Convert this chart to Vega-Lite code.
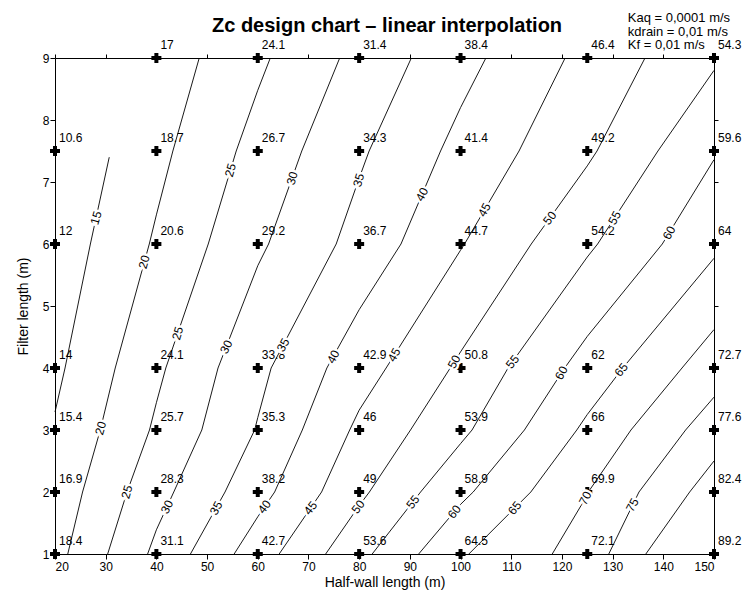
{
  "$schema": "https://vega.github.io/schema/vega-lite/v6.json",
  "width": 659,
  "height": 496,
  "autosize": {"type": "none"},
  "padding": {"left": 55, "top": 58, "right": 29, "bottom": 38},
  "background": "white",
  "config": {
    "view": {"stroke": null},
    "font": "Liberation Sans",
    "axis": {"domainColor": "black", "tickColor": "black", "labelColor": "black", "titleColor": "black", "grid": false, "labelFont": "Liberation Sans", "titleFont": "Liberation Sans", "labelFontSize": 12, "titleFontSize": 14, "titleFontWeight": "normal", "tickSize": 5, "domainWidth": 1, "tickWidth": 1}
  },
  "datasets": {
    "pts": [
      {"x": 40, "y": 9, "v": "17"}, {"x": 60, "y": 9, "v": "24.1"}, {"x": 80, "y": 9, "v": "31.4"}, {"x": 100, "y": 9, "v": "38.4"}, {"x": 125, "y": 9, "v": "46.4"}, {"x": 150, "y": 9, "v": "54.3"},
      {"x": 20, "y": 7.5, "v": "10.6"}, {"x": 40, "y": 7.5, "v": "18.7"}, {"x": 60, "y": 7.5, "v": "26.7"}, {"x": 80, "y": 7.5, "v": "34.3"}, {"x": 100, "y": 7.5, "v": "41.4"}, {"x": 125, "y": 7.5, "v": "49.2"}, {"x": 150, "y": 7.5, "v": "59.6"},
      {"x": 20, "y": 6, "v": "12"}, {"x": 40, "y": 6, "v": "20.6"}, {"x": 60, "y": 6, "v": "29.2"}, {"x": 80, "y": 6, "v": "36.7"}, {"x": 100, "y": 6, "v": "44.7"}, {"x": 125, "y": 6, "v": "54.2"}, {"x": 150, "y": 6, "v": "64"},
      {"x": 20, "y": 4, "v": "14"}, {"x": 40, "y": 4, "v": "24.1"}, {"x": 60, "y": 4, "v": "33.8"}, {"x": 80, "y": 4, "v": "42.9"}, {"x": 100, "y": 4, "v": "50.8"}, {"x": 125, "y": 4, "v": "62"}, {"x": 150, "y": 4, "v": "72.7"},
      {"x": 20, "y": 3, "v": "15.4"}, {"x": 40, "y": 3, "v": "25.7"}, {"x": 60, "y": 3, "v": "35.3"}, {"x": 80, "y": 3, "v": "46"}, {"x": 100, "y": 3, "v": "53.9"}, {"x": 125, "y": 3, "v": "66"}, {"x": 150, "y": 3, "v": "77.6"},
      {"x": 20, "y": 2, "v": "16.9"}, {"x": 40, "y": 2, "v": "28.3"}, {"x": 60, "y": 2, "v": "38.2"}, {"x": 80, "y": 2, "v": "49"}, {"x": 100, "y": 2, "v": "58.9"}, {"x": 125, "y": 2, "v": "69.9"}, {"x": 150, "y": 2, "v": "82.4"},
      {"x": 20, "y": 1, "v": "18.4"}, {"x": 40, "y": 1, "v": "31.1"}, {"x": 60, "y": 1, "v": "42.7"}, {"x": 80, "y": 1, "v": "53.6"}, {"x": 100, "y": 1, "v": "64.5"}, {"x": 125, "y": 1, "v": "72.1"}, {"x": 150, "y": 1, "v": "89.2"}
    ],
    "contours": [
      {"level": 15, "o": 1, "x": 20, "y": 3.29}, {"level": 15, "o": 2, "x": 21.98, "y": 4}, {"level": 15, "o": 3, "x": 26.98, "y": 6}, {"level": 15, "o": 4, "x": 30.7, "y": 7.4},
      {"level": 20, "o": 1, "x": 22.52, "y": 1}, {"level": 20, "o": 2, "x": 25.44, "y": 2}, {"level": 20, "o": 3, "x": 28.93, "y": 3}, {"level": 20, "o": 4, "x": 31.88, "y": 4}, {"level": 20, "o": 5, "x": 38.6, "y": 6}, {"level": 20, "o": 6, "x": 40, "y": 6.47}, {"level": 20, "o": 7, "x": 43.25, "y": 7.5}, {"level": 20, "o": 8, "x": 48.45, "y": 9},
      {"level": 25, "o": 1, "x": 30.39, "y": 1}, {"level": 25, "o": 2, "x": 34.21, "y": 2}, {"level": 25, "o": 3, "x": 38.64, "y": 3}, {"level": 25, "o": 4, "x": 40, "y": 3.44}, {"level": 25, "o": 5, "x": 41.86, "y": 4}, {"level": 25, "o": 6, "x": 50.23, "y": 6}, {"level": 25, "o": 7, "x": 55.75, "y": 7.5}, {"level": 25, "o": 8, "x": 60, "y": 8.48}, {"level": 25, "o": 9, "x": 62.47, "y": 9},
      {"level": 30, "o": 1, "x": 38.27, "y": 1}, {"level": 30, "o": 2, "x": 40, "y": 1.39}, {"level": 30, "o": 3, "x": 43.43, "y": 2}, {"level": 30, "o": 4, "x": 48.96, "y": 3}, {"level": 30, "o": 5, "x": 52.16, "y": 4}, {"level": 30, "o": 6, "x": 60, "y": 5.65}, {"level": 30, "o": 7, "x": 62.13, "y": 6}, {"level": 30, "o": 8, "x": 68.68, "y": 7.5}, {"level": 30, "o": 9, "x": 76.16, "y": 9},
      {"level": 35, "o": 1, "x": 46.72, "y": 1}, {"level": 35, "o": 2, "x": 53.54, "y": 2}, {"level": 35, "o": 3, "x": 59.38, "y": 3}, {"level": 35, "o": 4, "x": 60, "y": 3.2}, {"level": 35, "o": 5, "x": 62.64, "y": 4}, {"level": 35, "o": 6, "x": 75.47, "y": 6}, {"level": 35, "o": 7, "x": 80, "y": 7.06}, {"level": 35, "o": 8, "x": 81.97, "y": 7.5}, {"level": 35, "o": 9, "x": 90.29, "y": 9},
      {"level": 40, "o": 1, "x": 55.34, "y": 1}, {"level": 40, "o": 2, "x": 60, "y": 1.6}, {"level": 40, "o": 3, "x": 63.33, "y": 2}, {"level": 40, "o": 4, "x": 68.79, "y": 3}, {"level": 40, "o": 5, "x": 73.63, "y": 4}, {"level": 40, "o": 6, "x": 80, "y": 4.94}, {"level": 40, "o": 7, "x": 88.25, "y": 6}, {"level": 40, "o": 8, "x": 96.06, "y": 7.5}, {"level": 40, "o": 9, "x": 100, "y": 8.2}, {"level": 40, "o": 10, "x": 105, "y": 9},
      {"level": 45, "o": 1, "x": 64.22, "y": 1}, {"level": 45, "o": 2, "x": 72.59, "y": 2}, {"level": 45, "o": 3, "x": 78.13, "y": 3}, {"level": 45, "o": 4, "x": 80, "y": 3.32}, {"level": 45, "o": 5, "x": 85.32, "y": 4}, {"level": 45, "o": 6, "x": 100, "y": 5.9}, {"level": 45, "o": 7, "x": 100.79, "y": 6}, {"level": 45, "o": 8, "x": 111.54, "y": 7.5}, {"level": 45, "o": 9, "x": 120.63, "y": 9},
      {"level": 50, "o": 1, "x": 73.39, "y": 1}, {"level": 50, "o": 2, "x": 80, "y": 1.78}, {"level": 50, "o": 3, "x": 82.02, "y": 2}, {"level": 50, "o": 4, "x": 90.13, "y": 3}, {"level": 50, "o": 5, "x": 97.97, "y": 4}, {"level": 50, "o": 6, "x": 100, "y": 4.26}, {"level": 50, "o": 7, "x": 113.95, "y": 6}, {"level": 50, "o": 8, "x": 125, "y": 7.26}, {"level": 50, "o": 9, "x": 126.92, "y": 7.5}, {"level": 50, "o": 10, "x": 136.39, "y": 9},
      {"level": 55, "o": 1, "x": 82.57, "y": 1}, {"level": 55, "o": 2, "x": 92.12, "y": 2}, {"level": 55, "o": 3, "x": 100, "y": 2.78}, {"level": 55, "o": 4, "x": 102.27, "y": 3}, {"level": 55, "o": 5, "x": 109.38, "y": 4}, {"level": 55, "o": 6, "x": 125, "y": 5.79}, {"level": 55, "o": 7, "x": 127.04, "y": 6}, {"level": 55, "o": 8, "x": 138.94, "y": 7.5}, {"level": 55, "o": 9, "x": 150, "y": 8.8},
      {"level": 60, "o": 1, "x": 91.74, "y": 1}, {"level": 60, "o": 2, "x": 100, "y": 1.8}, {"level": 60, "o": 3, "x": 102.5, "y": 2}, {"level": 60, "o": 4, "x": 112.6, "y": 3}, {"level": 60, "o": 5, "x": 120.54, "y": 4}, {"level": 60, "o": 6, "x": 125, "y": 4.51}, {"level": 60, "o": 7, "x": 139.8, "y": 6}, {"level": 60, "o": 8, "x": 150, "y": 7.36},
      {"level": 65, "o": 1, "x": 101.64, "y": 1}, {"level": 65, "o": 2, "x": 113.86, "y": 2}, {"level": 65, "o": 3, "x": 122.93, "y": 3}, {"level": 65, "o": 4, "x": 125, "y": 3.25}, {"level": 65, "o": 5, "x": 132.01, "y": 4}, {"level": 65, "o": 6, "x": 150, "y": 5.77},
      {"level": 70, "o": 1, "x": 118.09, "y": 1}, {"level": 70, "o": 2, "x": 125, "y": 1.95}, {"level": 70, "o": 3, "x": 125.2, "y": 2}, {"level": 70, "o": 4, "x": 133.62, "y": 3}, {"level": 70, "o": 5, "x": 143.69, "y": 4}, {"level": 70, "o": 6, "x": 150, "y": 4.62},
      {"level": 75, "o": 1, "x": 129.24, "y": 1}, {"level": 75, "o": 2, "x": 135.2, "y": 2}, {"level": 75, "o": 3, "x": 144.4, "y": 3}, {"level": 75, "o": 4, "x": 150, "y": 3.53},
      {"level": 80, "o": 1, "x": 136.55, "y": 1}, {"level": 80, "o": 2, "x": 145.2, "y": 2}, {"level": 80, "o": 3, "x": 150, "y": 2.5}
    ],
    "labSteep": [
      {"level": 15, "x": 28.1, "y": 6.42}, {"level": 20, "x": 37.6, "y": 5.71}, {"level": 20, "x": 29.0, "y": 3.03},
      {"level": 25, "x": 54.6, "y": 7.19}, {"level": 25, "x": 44.2, "y": 4.56}, {"level": 25, "x": 34.2, "y": 2.0},
      {"level": 30, "x": 66.8, "y": 7.06}, {"level": 35, "x": 79.9, "y": 7.03}
    ],
    "labMid": [
      {"level": 30, "x": 53.8, "y": 4.34}, {"level": 30, "x": 42.1, "y": 1.76},
      {"level": 35, "x": 65.0, "y": 4.37}, {"level": 35, "x": 51.8, "y": 1.74},
      {"level": 40, "x": 92.4, "y": 6.8}, {"level": 40, "x": 74.9, "y": 4.18},
      {"level": 45, "x": 104.7, "y": 6.55}, {"level": 45, "x": 86.9, "y": 4.21},
      {"level": 50, "x": 98.75, "y": 4.1}, {"level": 55, "x": 130.4, "y": 6.42},
      {"level": 60, "x": 141.15, "y": 6.18}, {"level": 60, "x": 119.9, "y": 3.92},
      {"level": 70, "x": 124.6, "y": 1.9}, {"level": 75, "x": 133.9, "y": 1.79}
    ],
    "labFlat": [
      {"level": 40, "x": 61.3, "y": 1.76}, {"level": 45, "x": 70.4, "y": 1.74},
      {"level": 50, "x": 117.6, "y": 6.42}, {"level": 50, "x": 79.8, "y": 1.76},
      {"level": 55, "x": 110.25, "y": 4.1}, {"level": 55, "x": 90.6, "y": 1.84},
      {"level": 60, "x": 98.8, "y": 1.68}, {"level": 65, "x": 131.7, "y": 3.97}, {"level": 65, "x": 110.7, "y": 1.74}
    ],
    "heading": [
      {"title": "Zc design chart – linear interpolation"}
    ],
    "params": [
      {"lines": "Kaq = 0,0001 m/s|kdrain = 0,01 m/s|Kf = 0,01 m/s"}
    ]
  },
  "layer": [
    {
      "data": {"name": "contours"},
      "mark": {"type": "line", "color": "black", "strokeWidth": 0.9},
      "encoding": {
        "x": {"field": "x", "type": "quantitative", "scale": {"domain": [20, 150], "nice": false, "zero": false}, "axis": {"orient": "bottom", "values": [20, 30, 40, 50, 60, 70, 80, 90, 100, 110, 120, 130, 140, 150], "title": "Half-wall length (m)", "labelPadding": 2, "titlePadding": 3}},
        "y": {"field": "y", "type": "quantitative", "scale": {"domain": [1, 9], "nice": false, "zero": false}, "axis": {"orient": "left", "values": [1, 2, 3, 4, 5, 6, 7, 8, 9], "title": "Filter length (m)", "labelPadding": 1, "titlePadding": 12}},
        "detail": {"field": "level", "type": "nominal"},
        "order": {"field": "o", "type": "quantitative"}
      }
    },
    {
      "data": {"name": "pts"},
      "mark": {"type": "point", "shape": "cross", "filled": true, "color": "black", "size": 100, "opacity": 1},
      "encoding": {
        "x": {"field": "x", "type": "quantitative", "scale": {"domain": [20, 150], "nice": false, "zero": false}, "axis": {"orient": "top", "values": [20, 30, 40, 50, 60, 70, 80, 90, 100, 110, 120, 130, 140, 150], "labels": false, "title": null, "tickSize": 4}},
        "y": {"field": "y", "type": "quantitative", "scale": {"domain": [1, 9], "nice": false, "zero": false}, "axis": {"orient": "right", "values": [1, 2, 3, 4, 5, 6, 7, 8, 9], "labels": false, "title": null, "tickSize": 4}}
      }
    },
    {
      "data": {"name": "pts"},
      "mark": {"type": "text", "align": "left", "baseline": "alphabetic", "dx": 4, "dy": -9, "fontSize": 12, "color": "black"},
      "encoding": {
        "x": {"field": "x", "type": "quantitative", "scale": {"domain": [20, 150], "nice": false, "zero": false}, "axis": null},
        "y": {"field": "y", "type": "quantitative", "scale": {"domain": [1, 9], "nice": false, "zero": false}, "axis": null},
        "text": {"field": "v", "type": "nominal"}
      }
    },
    {
      "data": {"name": "labSteep"},
      "encoding": {
        "x": {"field": "x", "type": "quantitative", "scale": {"domain": [20, 150], "nice": false, "zero": false}, "axis": null},
        "y": {"field": "y", "type": "quantitative", "scale": {"domain": [1, 9], "nice": false, "zero": false}, "axis": null},
        "text": {"field": "level", "type": "nominal"}
      },
      "layer": [
        {"mark": {"type": "text", "angle": -74, "align": "center", "baseline": "middle", "fontSize": 12, "color": "white", "stroke": "white", "strokeWidth": 5}},
        {"mark": {"type": "text", "angle": -74, "align": "center", "baseline": "middle", "fontSize": 12, "color": "black"}}
      ]
    },
    {
      "data": {"name": "labMid"},
      "encoding": {
        "x": {"field": "x", "type": "quantitative", "scale": {"domain": [20, 150], "nice": false, "zero": false}, "axis": null},
        "y": {"field": "y", "type": "quantitative", "scale": {"domain": [1, 9], "nice": false, "zero": false}, "axis": null},
        "text": {"field": "level", "type": "nominal"}
      },
      "layer": [
        {"mark": {"type": "text", "angle": -62, "align": "center", "baseline": "middle", "fontSize": 12, "color": "white", "stroke": "white", "strokeWidth": 5}},
        {"mark": {"type": "text", "angle": -62, "align": "center", "baseline": "middle", "fontSize": 12, "color": "black"}}
      ]
    },
    {
      "data": {"name": "labFlat"},
      "encoding": {
        "x": {"field": "x", "type": "quantitative", "scale": {"domain": [20, 150], "nice": false, "zero": false}, "axis": null},
        "y": {"field": "y", "type": "quantitative", "scale": {"domain": [1, 9], "nice": false, "zero": false}, "axis": null},
        "text": {"field": "level", "type": "nominal"}
      },
      "layer": [
        {"mark": {"type": "text", "angle": -52, "align": "center", "baseline": "middle", "fontSize": 12, "color": "white", "stroke": "white", "strokeWidth": 5}},
        {"mark": {"type": "text", "angle": -52, "align": "center", "baseline": "middle", "fontSize": 12, "color": "black"}}
      ]
    },
    {
      "data": {"name": "heading"},
      "mark": {"type": "text", "align": "center", "baseline": "alphabetic", "fontSize": 20, "fontWeight": "bold", "color": "black"},
      "encoding": {
        "x": {"datum": 85.5, "type": "quantitative", "scale": {"domain": [20, 150], "nice": false, "zero": false}, "axis": null},
        "y": {"datum": 9.42, "type": "quantitative", "scale": {"domain": [1, 9], "nice": false, "zero": false}, "axis": null},
        "text": {"field": "title", "type": "nominal"}
      }
    },
    {
      "data": {"name": "params"},
      "transform": [{"calculate": "split(datum.lines, '|')", "as": "txt"}],
      "mark": {"type": "text", "align": "left", "baseline": "top", "fontSize": 13, "lineHeight": 13.5, "color": "black"},
      "encoding": {
        "x": {"datum": 133, "type": "quantitative", "scale": {"domain": [20, 150], "nice": false, "zero": false}, "axis": null},
        "y": {"datum": 9.74, "type": "quantitative", "scale": {"domain": [1, 9], "nice": false, "zero": false}, "axis": null},
        "text": {"field": "txt"}
      }
    }
  ]
}
